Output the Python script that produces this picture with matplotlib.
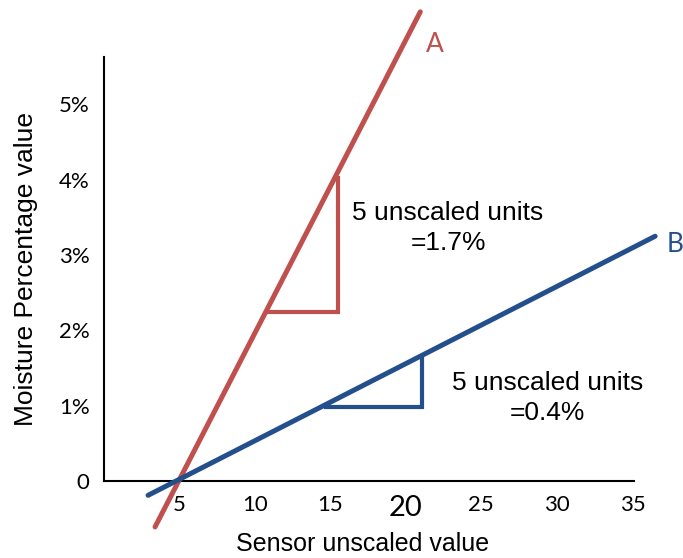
import matplotlib
matplotlib.use("Agg")
import matplotlib.pyplot as plt

# chart data (x: sensor unscaled value, y: moisture %)
line_a_x = [3.41, 20.96]
line_a_y = [-0.61, 6.23]
line_b_x = [2.95, 36.5]
line_b_y = [-0.19, 3.25]

tri_a_x = [10.83, 15.53, 15.53]
tri_a_y = [2.24, 2.24, 4.02]
tri_b_x = [14.74, 21.09, 21.09]
tri_b_y = [0.98, 0.98, 1.63]

x_ticks = [5, 10, 15, 20, 25, 30, 35]
x_tick_labels = ["5", "10", "15", "20", "25", "30", "35"]
y_ticks = [0, 1, 2, 3, 4, 5]
y_tick_labels = ["0", "1%", "2%", "3%", "4%", "5%"]

RED = "#C0504D"
BLUE = "#23508C"
ARIAL = "Liberation Sans"
CALIBRI = "Lato"

fig = plt.figure(figsize=(6.83, 5.58), dpi=100)
ax = fig.add_axes([103.5 / 683, 77 / 558, 530.5 / 683, 424 / 558])
ax.set_xlim(0, 35.1)
ax.set_ylim(0, 5.63)

# main lines, run past the axes
ax.plot(line_a_x, line_a_y, color=RED, lw=3.6, solid_capstyle="round", clip_on=False, zorder=3)
ax.plot(line_b_x, line_b_y, color=BLUE, lw=3.6, solid_capstyle="round", clip_on=False, zorder=3)

# slope triangles
ax.plot(tri_a_x, tri_a_y, color=RED, lw=3.0, solid_joinstyle="miter", zorder=2)
ax.plot(tri_b_x, tri_b_y, color=BLUE, lw=3.0, solid_joinstyle="miter", zorder=2)

ax.text(22.8, 3.36, "5 unscaled units\n=1.7%", ha="center", va="center",
        fontsize=19, family=ARIAL, linespacing=1.3)
ax.text(29.4, 1.10, "5 unscaled units\n=0.4%", ha="center", va="center",
        fontsize=19, family=ARIAL, linespacing=1.3)

ax.text(21.95, 5.8, "A", color=RED, fontsize=19, family=CALIBRI, ha="center", va="center", clip_on=False)
ax.text(37.8, 3.14, "B", color=BLUE, fontsize=19, family=CALIBRI, ha="center", va="center", clip_on=False)

ax.set_xticks(x_ticks)
ax.set_xticklabels(x_tick_labels, fontsize=16, family=CALIBRI)
ax.set_yticks(y_ticks)
ax.set_yticklabels(y_tick_labels, fontsize=16, family=CALIBRI)
ax.get_xticklabels()[3].set_fontsize(21)
ax.tick_params(axis="both", length=0)
ax.tick_params(axis="x", pad=10)
ax.tick_params(axis="y", pad=10)

for side in ["top", "right"]:
    ax.spines[side].set_visible(False)
for side in ["left", "bottom"]:
    ax.spines[side].set_linewidth(1.5)
    ax.spines[side].set_color("black")

ax.set_xlabel("Sensor unscaled value", fontsize=18, family=ARIAL)
ax.set_ylabel("Moisture Percentage value", fontsize=19, family=ARIAL)
ax.xaxis.set_label_coords(0.489, -0.12)
ax.yaxis.set_label_coords(-0.124, 0.5)

fig.savefig("out.png", dpi=100)
